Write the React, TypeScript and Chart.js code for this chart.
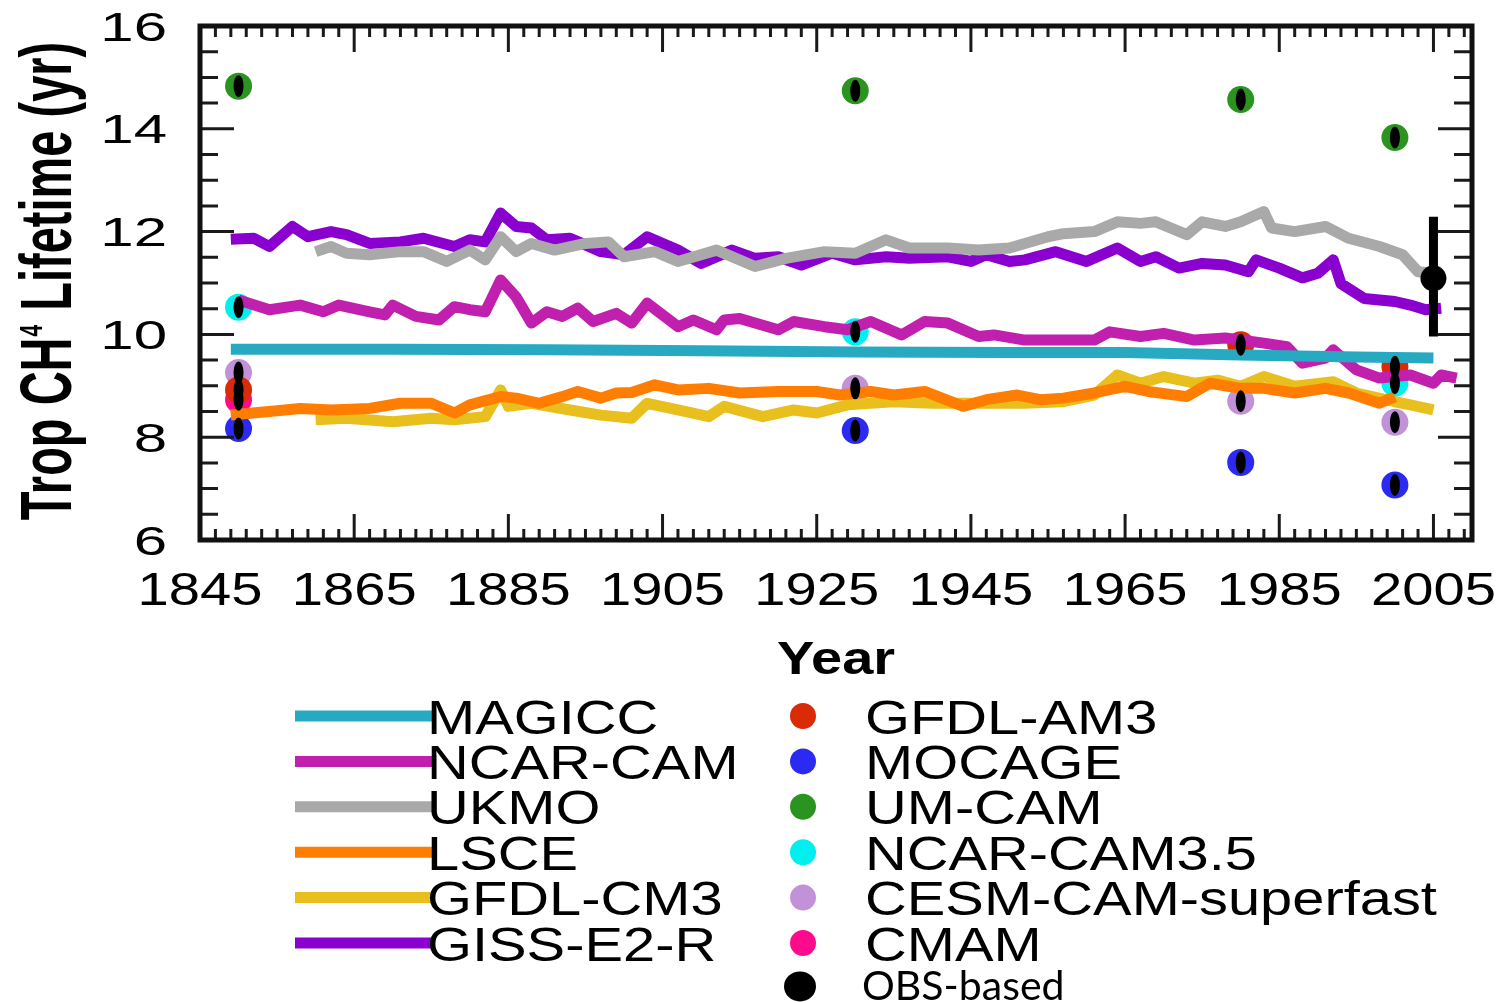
import React, { useEffect, useRef } from 'react';
import { Chart, registerables } from 'chart.js';

Chart.register(...registerables);

type Pt = [number, number];

// ---------- axes ----------
const X_MIN = 1845;
const X_MAX = 2010;
const Y_MIN = 6;
const Y_MAX = 16;
const X_TICKS = [1845, 1865, 1885, 1905, 1925, 1945, 1965, 1985, 2005];
const Y_TICKS = [6, 8, 10, 12, 14, 16];
const X_TITLE = 'Year';
const Y_TITLE_PARTS = ['Trop CH', '4', ' Lifetime (yr)'];

// ---------- transient model series (year, lifetime in yr) ----------
const MAGICC: Pt[] = [
  [1849, 9.71], [1870, 9.71], [1890, 9.70], [1910, 9.68], [1930, 9.66],
  [1950, 9.65], [1965, 9.65], [1980, 9.60], [1995, 9.56], [2005, 9.54],
];

const NCAR_CAM: Pt[] = [
  [1850, 10.67], [1854, 10.48], [1858, 10.57], [1861, 10.44], [1863, 10.57], [1867, 10.44],
  [1869, 10.38], [1870, 10.57], [1873, 10.35], [1876, 10.28], [1878, 10.54], [1880, 10.48],
  [1882, 10.44], [1884, 11.06], [1886, 10.73], [1888, 10.22], [1890, 10.44], [1892, 10.35],
  [1894, 10.51], [1896, 10.25], [1899, 10.41], [1901, 10.22], [1903, 10.61], [1907, 10.15],
  [1909, 10.28], [1912, 10.09], [1913, 10.28], [1915, 10.31], [1920, 10.09], [1922, 10.25],
  [1926, 10.15], [1929, 10.09], [1932, 10.25], [1936, 9.99], [1939, 10.25], [1942, 10.22],
  [1946, 9.96], [1948, 9.99], [1952, 9.89], [1958, 9.89], [1961, 9.89], [1963, 10.05],
  [1967, 9.96], [1970, 10.02], [1974, 9.89], [1978, 9.93], [1983, 9.83], [1986, 9.76],
  [1988, 9.44], [1991, 9.54], [1992, 9.70], [1995, 9.31], [1998, 9.15], [2002, 9.21],
  [2005, 9.05], [2006, 9.21], [2008, 9.15],
];

const UKMO: Pt[] = [
  [1860, 11.61], [1862, 11.71], [1864, 11.58], [1867, 11.55], [1871, 11.61], [1874, 11.61],
  [1877, 11.42], [1880, 11.64], [1882, 11.45], [1884, 11.90], [1886, 11.61], [1888, 11.77],
  [1891, 11.64], [1895, 11.77], [1898, 11.80], [1900, 11.51], [1904, 11.61], [1907, 11.42],
  [1912, 11.64], [1917, 11.32], [1921, 11.48], [1926, 11.61], [1930, 11.58], [1934, 11.84],
  [1937, 11.68], [1942, 11.68], [1946, 11.64], [1950, 11.68], [1955, 11.90], [1957, 11.96],
  [1961, 12.00], [1964, 12.19], [1967, 12.16], [1969, 12.19], [1973, 11.94], [1975, 12.19],
  [1978, 12.10], [1980, 12.19], [1983, 12.39], [1984, 12.07], [1987, 12.00], [1991, 12.10],
  [1994, 11.87], [1998, 11.71], [2001, 11.55], [2003, 11.22], [2005, 11.19],
];

const LSCE: Pt[] = [
  [1849, 8.43], [1854, 8.50], [1858, 8.56], [1862, 8.53], [1867, 8.56], [1871, 8.66],
  [1875, 8.66], [1878, 8.47], [1880, 8.63], [1884, 8.79], [1886, 8.76], [1889, 8.66],
  [1892, 8.79], [1894, 8.89], [1897, 8.76], [1899, 8.86], [1901, 8.87], [1904, 9.02],
  [1907, 8.92], [1911, 8.95], [1915, 8.86], [1920, 8.89], [1925, 8.89], [1928, 8.82],
  [1932, 8.89], [1935, 8.82], [1939, 8.89], [1944, 8.60], [1947, 8.73], [1951, 8.82],
  [1954, 8.73], [1957, 8.76], [1961, 8.86], [1965, 8.99], [1968, 8.89], [1973, 8.79],
  [1976, 9.05], [1980, 8.95], [1983, 8.95], [1987, 8.86], [1991, 8.95], [1994, 8.86],
  [1998, 8.66], [2000, 8.79],
];

const GFDL_CM3: Pt[] = [
  [1860, 8.34], [1864, 8.37], [1870, 8.30], [1875, 8.37], [1878, 8.34], [1882, 8.40],
  [1884, 8.92], [1885, 8.60], [1888, 8.66], [1893, 8.53], [1897, 8.43], [1901, 8.37],
  [1903, 8.66], [1907, 8.53], [1911, 8.40], [1913, 8.60], [1918, 8.40], [1922, 8.53],
  [1925, 8.47], [1929, 8.63], [1935, 8.69], [1940, 8.66], [1944, 8.66], [1948, 8.66],
  [1952, 8.66], [1957, 8.69], [1961, 8.82], [1964, 9.21], [1967, 9.05], [1970, 9.18],
  [1974, 9.05], [1977, 9.11], [1980, 8.99], [1983, 9.18], [1987, 8.99], [1992, 9.08],
  [1995, 8.86], [2000, 8.69], [2002, 8.63], [2005, 8.53],
];

const GISS_E2_R: Pt[] = [
  [1849, 11.85], [1852, 11.87], [1854, 11.71], [1857, 12.10], [1859, 11.90], [1862, 12.00],
  [1864, 11.94], [1867, 11.77], [1871, 11.80], [1874, 11.87], [1878, 11.71], [1880, 11.84],
  [1882, 11.80], [1884, 12.36], [1886, 12.10], [1888, 12.07], [1890, 11.84], [1893, 11.87],
  [1897, 11.61], [1900, 11.55], [1903, 11.90], [1907, 11.64], [1910, 11.38], [1914, 11.64],
  [1917, 11.48], [1920, 11.51], [1923, 11.35], [1927, 11.58], [1930, 11.45], [1934, 11.51],
  [1937, 11.48], [1942, 11.51], [1945, 11.42], [1947, 11.55], [1950, 11.42], [1952, 11.45],
  [1956, 11.61], [1960, 11.42], [1964, 11.68], [1967, 11.42], [1969, 11.51], [1972, 11.29],
  [1975, 11.38], [1978, 11.35], [1981, 11.22], [1982, 11.45], [1985, 11.29], [1988, 11.10],
  [1990, 11.19], [1992, 11.45], [1993, 10.99], [1996, 10.70], [2000, 10.64], [2002, 10.57],
  [2004, 10.48], [2006, 10.51],
];

// ---------- time-slice models ----------
const GFDL_AM3: Pt[] = [[1850, 8.92], [1980, 9.80], [2000, 9.37]];
const MOCAGE: Pt[] = [[1850, 8.17], [1930, 8.13], [1980, 7.51], [2000, 7.07]];
const UM_CAM: Pt[] = [[1850, 14.83], [1930, 14.74], [1980, 14.57], [2000, 13.83]];
const NCAR_CAM35: Pt[] = [[1850, 10.53], [1930, 10.05], [2000, 9.05]];
const CESM_SUPERFAST: Pt[] = [[1850, 9.26], [1930, 8.95], [1980, 8.70], [2000, 8.29]];
const CMAM: Pt[] = [[1850, 8.73]];

// ---------- observation-based estimate ----------
const OBS_BASED: Pt[] = [[2005, 11.09]];
const OBS_LOW = [9.96];
const OBS_HIGH = [12.29];

const LINE_SERIES = [
  { label: 'MAGICC', color: '#27a9c1', data: MAGICC, order: 1 },
  { label: 'NCAR-CAM', color: '#c11fae', data: NCAR_CAM, order: 2 },
  { label: 'UKMO', color: '#a9a9a9', data: UKMO, order: 3 },
  { label: 'LSCE', color: '#ff7d00', data: LSCE, order: 5 },
  { label: 'GFDL-CM3', color: '#e8bf1c', data: GFDL_CM3, order: 6 },
  { label: 'GISS-E2-R', color: '#8a00cf', data: GISS_E2_R, order: 4 },
];

const DOT_SERIES = [
  { label: 'GFDL-AM3', color: '#d92b06', data: GFDL_AM3 },
  { label: 'MOCAGE', color: '#2a2af2', data: MOCAGE },
  { label: 'UM-CAM', color: '#2b9420', data: UM_CAM },
  { label: 'NCAR-CAM3.5', color: '#00f0f0', data: NCAR_CAM35 },
  { label: 'CESM-CAM-superfast', color: '#c292d8', data: CESM_SUPERFAST },
  { label: 'CMAM', color: '#ff0a8c', data: CMAM },
];

const OBS_LABEL = 'OBS-based';

const toXY = (pts: Pt[]) => pts.map(([x, y]) => ({ x, y }));

function stretchedText(
  ctx: CanvasRenderingContext2D,
  text: string,
  x: number,
  y: number,
  sx: number,
  align: CanvasTextAlign,
) {
  ctx.save();
  ctx.translate(x, y);
  ctx.scale(sx, 1);
  ctx.textAlign = align;
  ctx.textBaseline = 'alphabetic';
  ctx.fillText(text, 0, 0);
  ctx.restore();
}

const decorPlugin = {
  id: 'decor',
  afterDatasetsDraw(chart: any) {
    const ctx: CanvasRenderingContext2D = chart.ctx;
    const xs = chart.scales.x;
    const ys = chart.scales.y;
    // black centre marks on the time-slice model dots
    chart.data.datasets.forEach((ds: any, i: number) => {
      if (!ds.centerMark) return;
      const meta = chart.getDatasetMeta(i);
      ctx.save();
      ctx.fillStyle = '#000';
      meta.data.forEach((el: any) => {
        ctx.beginPath();
        ctx.ellipse(el.x, el.y, 5, 11, 0, 0, Math.PI * 2);
        ctx.fill();
      });
      ctx.restore();
    });
    // OBS error bar
    OBS_BASED.forEach((p, k) => {
      const x = xs.getPixelForValue(p[0]);
      ctx.save();
      ctx.strokeStyle = '#000';
      ctx.lineWidth = 9;
      ctx.beginPath();
      ctx.moveTo(x, ys.getPixelForValue(OBS_LOW[k]));
      ctx.lineTo(x, ys.getPixelForValue(OBS_HIGH[k]));
      ctx.stroke();
      ctx.restore();
    });
  },
  afterDraw(chart: any) {
    const ctx: CanvasRenderingContext2D = chart.ctx;
    const ca = chart.chartArea;
    const xs = chart.scales.x;
    const ys = chart.scales.y;
    ctx.save();

    // ticks (inward, on all four sides)
    ctx.strokeStyle = '#1a1a1a';
    ctx.lineWidth = 3;
    const vTick = (x: number, len: number) => {
      ctx.beginPath();
      ctx.moveTo(x, ca.top);
      ctx.lineTo(x, ca.top + len);
      ctx.moveTo(x, ca.bottom);
      ctx.lineTo(x, ca.bottom - len);
      ctx.stroke();
    };
    const hTick = (y: number, len: number) => {
      ctx.beginPath();
      ctx.moveTo(ca.left, y);
      ctx.lineTo(ca.left + len, y);
      ctx.moveTo(ca.right, y);
      ctx.lineTo(ca.right - len, y);
      ctx.stroke();
    };
    for (let yr = X_MIN + 2; yr < X_MAX; yr += 2) {
      if (X_TICKS.includes(yr)) continue;
      vTick(xs.getPixelForValue(yr), 11);
    }
    X_TICKS.forEach((t) => vTick(xs.getPixelForValue(t), 26));
    for (let v = Y_MIN + 0.5; v < Y_MAX; v += 0.5) {
      if (Y_TICKS.includes(v)) continue;
      hTick(ys.getPixelForValue(v), 18);
    }
    Y_TICKS.forEach((t) => hTick(ys.getPixelForValue(t), 34));

    // frame
    ctx.lineWidth = 5;
    ctx.strokeStyle = '#111';
    ctx.strokeRect(ca.left, ca.top, ca.right - ca.left, ca.bottom - ca.top);

    // tick labels
    ctx.fillStyle = '#000';
    ctx.font = '46px "Liberation Sans", Arial, sans-serif';
    X_TICKS.forEach((t) => {
      stretchedText(ctx, String(t), xs.getPixelForValue(t), ca.bottom + 65, 1.22, 'center');
    });
    ctx.font = '40px "Liberation Sans", Arial, sans-serif';
    Y_TICKS.forEach((t) => {
      stretchedText(ctx, String(t), ca.left - 33, ys.getPixelForValue(t) + 14.5, 1.5, 'right');
    });

    // x title
    ctx.font = 'bold 47px "Liberation Sans", Arial, sans-serif';
    stretchedText(ctx, X_TITLE, (ca.left + ca.right) / 2, 674, 1.19, 'center');

    // y title (rotated, with small raised "4")
    const mainFont = 'bold 47px "Liberation Sans", Arial, sans-serif';
    const smallFont = 'bold 21px "Liberation Sans", Arial, sans-serif';
    ctx.font = mainFont;
    const w0 = ctx.measureText(Y_TITLE_PARTS[0]).width;
    const w2 = ctx.measureText(Y_TITLE_PARTS[2]).width;
    ctx.font = smallFont;
    const w1 = ctx.measureText(Y_TITLE_PARTS[1]).width + 2;
    const total = w0 + w1 + w2;
    ctx.save();
    ctx.translate(71, (ca.top + ca.bottom) / 2 - 2);
    ctx.rotate(-Math.PI / 2);
    ctx.scale(1, 1.53);
    ctx.textAlign = 'left';
    ctx.textBaseline = 'alphabetic';
    let cx = -total / 2;
    ctx.font = mainFont;
    ctx.fillText(Y_TITLE_PARTS[0], cx, 0);
    cx += w0;
    ctx.font = smallFont;
    ctx.fillText(Y_TITLE_PARTS[1], cx + 1, -19);
    cx += w1;
    ctx.font = mainFont;
    ctx.fillText(Y_TITLE_PARTS[2], cx, 0);
    ctx.restore();

    // legend
    const rowY0 = 716;
    const rowGap = 45.4;
    ctx.font = '49px "Liberation Sans", Arial, sans-serif';
    LINE_SERIES.forEach((s, i) => {
      const y = rowY0 + i * rowGap;
      ctx.strokeStyle = s.color;
      ctx.lineWidth = 11;
      ctx.lineCap = 'butt';
      ctx.beginPath();
      ctx.moveTo(295, y);
      ctx.lineTo(432, y);
      ctx.stroke();
      ctx.fillStyle = '#000';
      stretchedText(ctx, s.label, 427, y + 17.5, 1.18, 'left');
    });
    DOT_SERIES.forEach((s, i) => {
      const y = rowY0 + i * rowGap;
      ctx.fillStyle = s.color;
      ctx.beginPath();
      ctx.arc(803, y, 13, 0, Math.PI * 2);
      ctx.fill();
      ctx.fillStyle = '#000';
      stretchedText(ctx, s.label, 865, y + 17.5, 1.18, 'left');
    });
    const obsY = rowY0 + DOT_SERIES.length * rowGap - 4;
    ctx.fillStyle = '#000';
    ctx.beginPath();
    ctx.ellipse(800, obsY + 2, 16, 15, 0, 0, Math.PI * 2);
    ctx.fill();
    ctx.font = '41px Lato, "Open Sans", sans-serif';
    stretchedText(ctx, OBS_LABEL, 862, obsY + 16, 1.0, 'left');

    ctx.restore();
  },
};

export default function App() {
  const ref = useRef<HTMLCanvasElement | null>(null);

  useEffect(() => {
    if (!ref.current) return;
    const datasets: any[] = [];
    LINE_SERIES.forEach((s) => {
      datasets.push({
        label: s.label,
        data: toXY(s.data),
        borderColor: s.color,
        backgroundColor: s.color,
        borderWidth: 11,
        pointRadius: 0,
        tension: 0,
        fill: false,
        borderJoinStyle: 'round',
        borderCapStyle: 'butt',
        order: s.order,
      });
    });
    DOT_SERIES.forEach((s) => {
      datasets.push({
        label: s.label,
        data: toXY(s.data),
        showLine: false,
        pointRadius: 13.5,
        pointBorderWidth: 0,
        pointBackgroundColor: s.color,
        borderColor: s.color,
        backgroundColor: s.color,
        order: 100,
        centerMark: true,
      });
    });
    datasets.push({
      label: OBS_LABEL,
      data: toXY(OBS_BASED),
      showLine: false,
      pointRadius: 13,
      pointBorderWidth: 0,
      pointBackgroundColor: '#000',
      borderColor: '#000',
      backgroundColor: '#000',
      order: 0,
    });

    const chart = new Chart(ref.current, {
      type: 'line',
      data: { datasets },
      options: {
        responsive: false,
        animation: false,
        devicePixelRatio: 1,
        events: [],
        layout: { padding: { left: 200, top: 26, right: 30, bottom: 463 } },
        plugins: { legend: { display: false }, tooltip: { enabled: false } },
        scales: {
          x: { type: 'linear', min: X_MIN, max: X_MAX, display: false },
          y: { type: 'linear', min: Y_MIN, max: Y_MAX, display: false },
        },
      },
      plugins: [decorPlugin],
    } as any);
    return () => chart.destroy();
  }, []);

  return (
    <div style={{ position: 'absolute', left: 0, top: 0, width: 1502, height: 1003, background: '#fff' }}>
      <canvas ref={ref} width={1502} height={1003} style={{ display: 'block', width: 1502, height: 1003 }} />
    </div>
  );
}
